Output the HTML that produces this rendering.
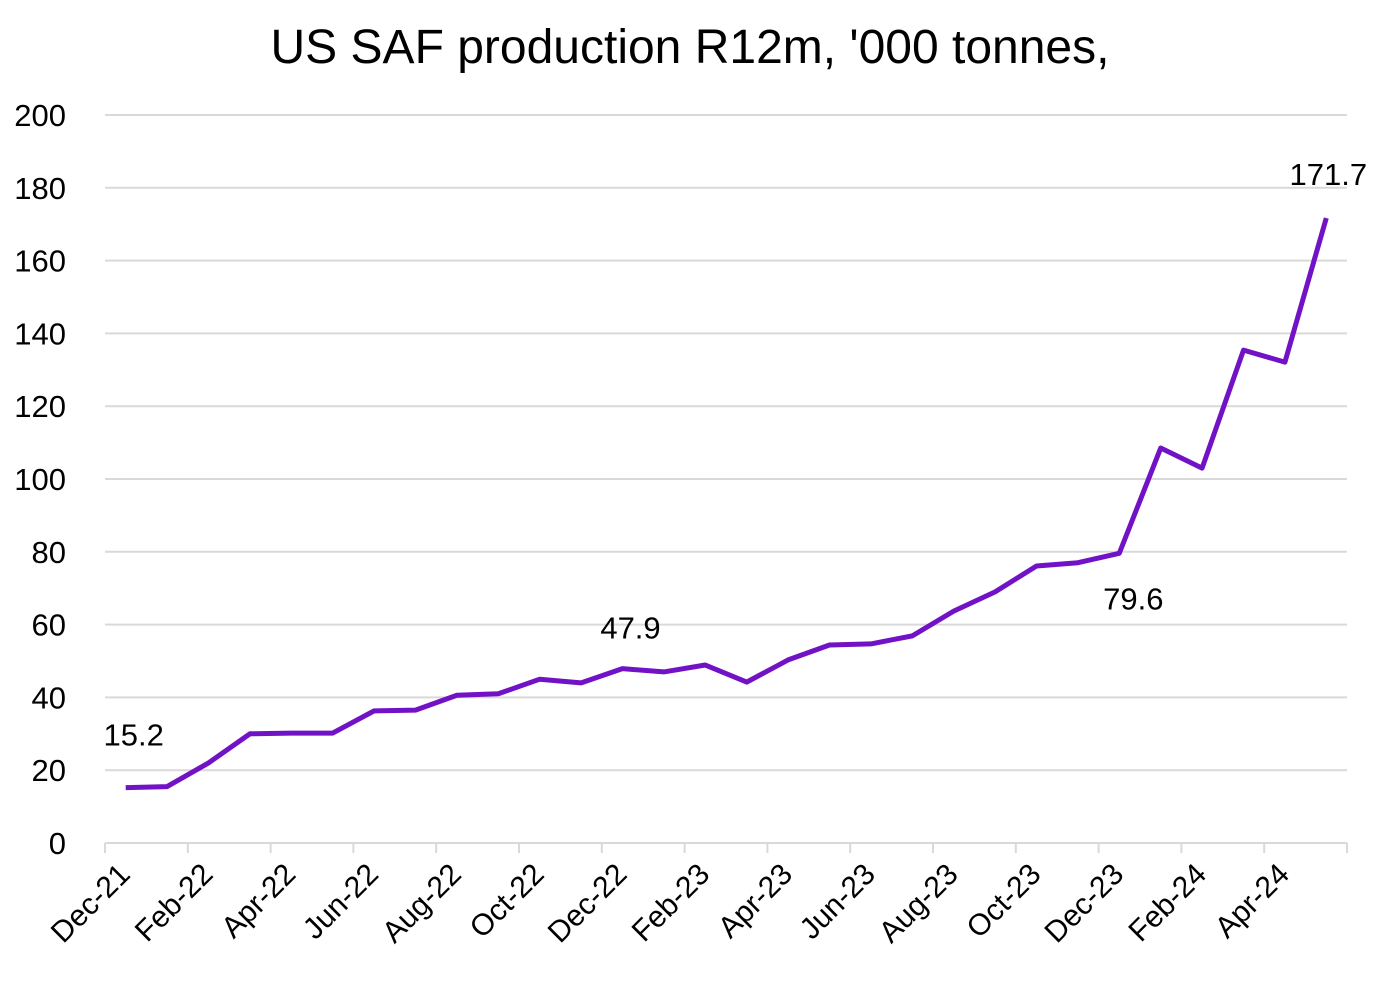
<!DOCTYPE html>
<html><head><meta charset="utf-8"><style>
body{margin:0;background:#fff}
svg{display:block;font-family:"Liberation Sans",sans-serif}
</style></head><body>
<svg width="1384" height="990" id="c">
<text x="690" y="63" text-anchor="middle" font-size="48" fill="#000">US SAF production R12m, '000 tonnes,</text>
</svg>
<script>
const categories=["Dec-21","Jan-22","Feb-22","Mar-22","Apr-22","May-22","Jun-22","Jul-22","Aug-22","Sep-22","Oct-22","Nov-22","Dec-22","Jan-23","Feb-23","Mar-23","Apr-23","May-23","Jun-23","Jul-23","Aug-23","Sep-23","Oct-23","Nov-23","Dec-23","Jan-24","Feb-24","Mar-24","Apr-24","May-24"];
const values=[15.2,15.5,22,30,30.2,30.2,36.3,36.5,40.6,41,45,44,47.9,47,48.9,44.2,50.3,54.4,54.7,56.9,63.7,69,76.1,77,79.6,108.5,103,135.4,132.1,171.7];
const yTicks=[0,20,40,60,80,100,120,140,160,180,200];
const labelled=[0,12,24,29];
const NS="http://www.w3.org/2000/svg";
const svg=document.getElementById('c');
const x0=105,x1=1347,yb=843,yt=115,ymax=200;
const step=(x1-x0)/categories.length;
const X=i=>x0+step*(i+0.5);
const Y=v=>yb-(v/ymax)*(yb-yt);
function mk(t,a){const e=document.createElementNS(NS,t);for(const k in a)e.setAttribute(k,a[k]);svg.appendChild(e);return e;}
yTicks.forEach(v=>{
  const g=mk('line',{x1:x0,x2:x1,y1:Y(v),y2:Y(v),stroke:'#d9d9d9','stroke-width':2});
  
  
  const t=mk('text',{x:66,y:Y(v)+11,'text-anchor':'end','font-size':31,fill:'#000'});
  t.textContent=v;
  
  
});
for(let i=0;i<=categories.length;i+=2){
  const tx=x0+step*i;
  const tk=mk('line',{x1:tx,x2:tx,y1:yb,y2:yb+10,stroke:'#d9d9d9','stroke-width':2});
  
  
  if(i<categories.length){
    const cx=X(i)+6,cy=876;
    const t=mk('text',{x:cx,y:cy,'text-anchor':'end','font-size':30,fill:'#000',transform:`rotate(-45 ${cx} ${cy})`});
    t.textContent=categories[i];
    
    
  }
}
const ln=mk('polyline',{points:values.map((v,i)=>X(i)+','+Y(v)).join(' '),fill:'none',stroke:'#7212c6','stroke-width':5,'stroke-linejoin':'round'});


const offs={0:[8,-42],12:[8,-30],24:[14,56],29:[2,-33]};
labelled.forEach(i=>{
  const o=offs[i];
  const t=mk('text',{x:X(i)+o[0],y:Y(values[i])+o[1],'text-anchor':'middle','font-size':31,fill:'#000'});
  t.textContent=values[i].toFixed(1);
  
  
});
</script>
</body></html>
